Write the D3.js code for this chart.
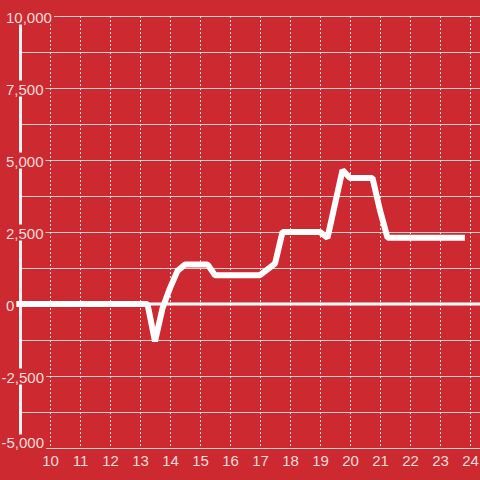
<!doctype html>
<html>
<head>
    <meta charset="utf-8">
    <style>
        body { margin: 0; background: #cc2a30; }
        svg { display: block; font-family: "Liberation Sans", Arial, sans-serif; }
        .tick text { fill: #f4dcdc; font-size: 15px; }
    </style>
    <script src="https://d3js.org/d3.v7.min.js"></script>
</head>
<body>
    <svg width="480" height="480"></svg>
    <script>
        // hours of day and the value at each point
        var hours  = [8.5, 13.25, 13.5, 13.75, 14, 14.25, 14.5, 15.25, 15.5, 17, 17.5, 17.75, 19, 19.25, 19.75, 20, 20.75, 21, 21.25, 23.83];
        var values = [0, 0, -1300, -150, 550, 1150, 1375, 1375, 1000, 1000, 1400, 2500, 2500, 2300, 4650, 4375, 4375, 3250, 2300, 2300];

        var xTicks = [10, 11, 12, 13, 14, 15, 16, 17, 18, 19, 20, 21, 22, 23, 24];
        var yTicks = [-5000, -2500, 0, 2500, 5000, 7500, 10000];
        var yGrid  = [-3750, -1250, 1250, 3750, 6250, 8750];

        var svg = d3.select("svg"),
            plotLeft = 20, plotRight = 480, plotTop = 16, plotBottom = 448;

        var x = d3.scaleLinear().domain([9, 24 + 1/3]).range([plotLeft, plotRight]),
            y = d3.scaleLinear().domain([-5000, 10000]).range([plotBottom, plotTop]);

        var comma = d3.format(",");
        function yFormat(d) { return comma(d).replace("\u2212", "-"); }

        svg.append("rect").attr("width", 480).attr("height", 480).attr("fill", "#cc2a30");

        // horizontal grid
        svg.append("g").selectAll("line")
           .data(yTicks.concat(yGrid))
           .enter().append("line")
           .attr("x1", plotLeft).attr("x2", plotRight)
           .attr("y1", function(d) { return Math.round(y(d)) + 0.5; })
           .attr("y2", function(d) { return Math.round(y(d)) + 0.5; })
           .attr("stroke", "#d0d0d0")
           .attr("stroke-width", 1);

        // vertical dashed grid
        svg.append("g").selectAll("line")
           .data(xTicks)
           .enter().append("line")
           .attr("x1", function(d) { return x(d) + 0.5; })
           .attr("x2", function(d) { return x(d) + 0.5; })
           .attr("y1", plotTop).attr("y2", plotBottom)
           .attr("stroke", "#e0e0e0")
           .attr("stroke-dasharray", "2,2");

        // y axis line
        svg.append("line")
           .attr("x1", plotLeft + 0.5).attr("x2", plotLeft + 0.5)
           .attr("y1", plotTop).attr("y2", plotBottom)
           .attr("stroke", "#f0f0f0")
           .attr("stroke-width", 3);

        // zero line
        svg.append("line")
           .attr("x1", plotLeft).attr("x2", plotRight)
           .attr("y1", y(0)).attr("y2", y(0))
           .attr("stroke", "#ffffff")
           .attr("stroke-width", 3);

        var pts = hours.map(function(h, i) { return [h, values[i]]; });
        var line = d3.line()
            .x(function(d) { return x(d[0]); })
            .y(function(d) { return y(d[1]); });

        svg.append("path")
           .datum(pts)
           .attr("d", line)
           .attr("fill", "none")
           .attr("stroke", "#ffffff")
           .attr("stroke-width", 6)
           .attr("stroke-linejoin", "bevel");

        // x labels
        var gx = svg.append("g")
           .attr("transform", "translate(0," + plotBottom + ")")
           .call(d3.axisBottom(x).tickValues(xTicks).tickSize(0).tickPadding(7).tickFormat(d3.format("d")));
        gx.select(".domain").remove();
        gx.attr("font-family", null).attr("font-size", null);

        // y labels with a red box behind each one; the lowest one sits a little higher
        var yMin = d3.min(yTicks);
        var gy = svg.append("g")
           .call(d3.axisLeft(y).tickValues(yTicks).tickSize(0).tickFormat(yFormat));
        gy.select(".domain").remove();
        gy.attr("font-family", null).attr("font-size", null).attr("text-anchor", "start");
        gy.selectAll(".tick text")
          .attr("x", 6)
          .attr("dy", function(d) { return d === yMin ? "-0.04em" : "0.42em"; })
          .attr("dx", function(d) { return d < 0 ? "-0.3em" : 0; });
        gy.selectAll(".tick").each(function(d) {
            var t = d3.select(this).select("text"),
                b = t.node().getBBox();
            d3.select(this).insert("rect", "text")
              .attr("x", 0).attr("y", d === yMin ? -14 : -8)
              .attr("width", b.x + b.width + 2)
              .attr("height", 16)
              .attr("fill", "#cc2a30");
        });
    </script>
</body>
</html>
